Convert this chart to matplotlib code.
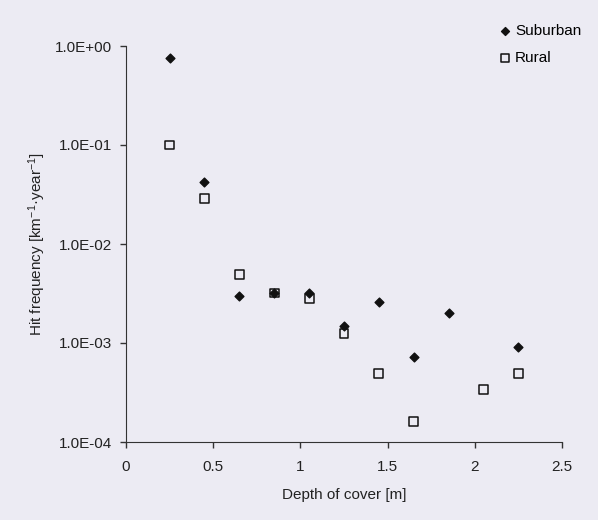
import matplotlib
matplotlib.use('Agg')
import matplotlib.pyplot as plt
from matplotlib.ticker import FixedLocator, FuncFormatter

# depth of cover [m] and hit frequencies [km^-1 year^-1]
suburban_depth = [0.25, 0.45, 0.65, 0.85, 1.05, 1.25, 1.45, 1.65, 1.85, 2.25]
suburban_freq = [0.75, 0.042, 0.0030, 0.0032, 0.0032, 0.0015, 0.0026, 0.00072, 0.0020, 0.00092]

rural_depth = [0.25, 0.45, 0.65, 0.85, 1.05, 1.25, 1.45, 1.65, 2.05, 2.25]
rural_freq = [0.10, 0.029, 0.0049, 0.0032, 0.0028, 0.00125, 0.00049, 0.00016, 0.00034, 0.00049]

y_ticks = [1e-4, 1e-3, 1e-2, 1e-1, 1e0]
x_ticks = [0, 0.5, 1, 1.5, 2, 2.5]

bg = '#ecebf3'
plt.rcParams['font.family'] = ['Liberation Sans', 'DejaVu Sans']
plt.rcParams['mathtext.default'] = 'regular'

fig = plt.figure(figsize=(5.98, 5.2), dpi=100, facecolor=bg)
ax = fig.add_axes([126 / 598, 1 - 442 / 520, 436 / 598, 396 / 520])
ax.set_facecolor(bg)

ax.scatter(suburban_depth, suburban_freq, marker='D', s=20, color='#111111',
           label='Suburban', zorder=3)
ax.scatter(rural_depth, rural_freq, marker='s', s=40, facecolor='none',
           edgecolor='#111111', linewidth=1.1, label='Rural', zorder=3)

ax.set_yscale('log')
ax.set_ylim(1e-4, 1e0)
ax.set_xlim(0, 2.5)
ax.yaxis.set_major_locator(FixedLocator(y_ticks))
ax.yaxis.set_minor_locator(FixedLocator([]))
ax.yaxis.set_major_formatter(FuncFormatter(lambda v, p: f"{v:.1E}"))
ax.set_xticks(x_ticks)
ax.set_xticklabels(['0', '0.5', '1', '1.5', '2', '2.5'])

for side in ['top', 'right']:
    ax.spines[side].set_visible(False)
for side in ['left', 'bottom']:
    ax.spines[side].set_color('#333333')
ax.tick_params(direction='out', length=4, width=1, colors='#333333',
               labelcolor='#222222', labelsize=11)
ax.tick_params(axis='y', pad=6)
ax.tick_params(axis='x', pad=9)

ax.set_xlabel('Depth of cover [m]', fontsize=11, color='#222222', labelpad=10)
ax.set_ylabel('Hit frequency [km$^{-1}$·year$^{-1}$]', fontsize=11,
              color='#222222')
ax.yaxis.set_label_coords(-0.18, 0.5)

fig.legend(loc='upper left', bbox_to_anchor=(490 / 598, 1 - 16 / 520),
           frameon=False, fontsize=11, handletextpad=0.15, labelspacing=0.85,
           borderpad=0, handlelength=1.0, markerscale=0.9)

fig.savefig('out.png', dpi=100, facecolor=bg)
